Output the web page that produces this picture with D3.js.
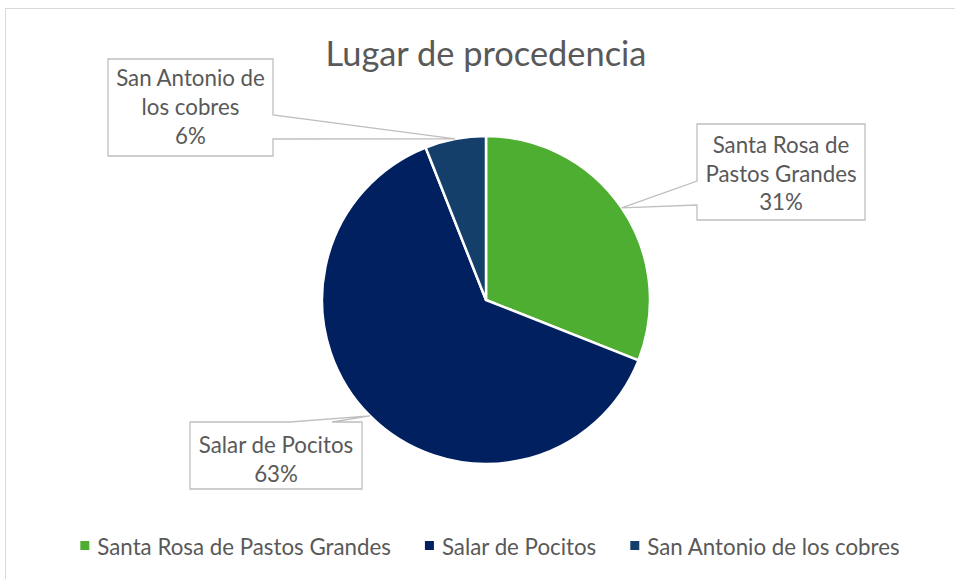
<!DOCTYPE html>
<html>
<head>
<meta charset="utf-8">
<script src="https://cdn.jsdelivr.net/npm/d3@7"></script>
<style>
  html, body { margin: 0; padding: 0; background: #ffffff; }
  svg { display: block; }
  text { font-family: Lato, "Open Sans", sans-serif; fill: #595959; }
</style>
</head>
<body>
<svg id="chart" width="955" height="579"></svg>
<script>
// ---- data ----
const categories = ["Santa Rosa de Pastos Grandes", "Salar de Pocitos", "San Antonio de los cobres"];
const values = [31, 63, 6];
const labelLines = [["Santa Rosa de", "Pastos Grandes"], ["Salar de Pocitos"], ["San Antonio de", "los cobres"]];
const colors = ["#4DAE32", "#002060", "#143F6B"];
const title = "Lugar de procedencia";

// ---- layout ----
const W = 955, H = 579;
const cx = 486, cy = 300, R = 164;
const svg = d3.select("#chart");

// outer chart border
svg.append("rect").attr("x", 5.5).attr("y", 8.5).attr("width", 960).attr("height", 600)
  .attr("fill", "#fff").attr("stroke", "#D9D9D9").attr("stroke-width", 1);

// title
svg.append("text").attr("x", cx).attr("y", 66).attr("text-anchor", "middle")
  .attr("font-size", 34.4).text(title);

const pie = d3.pie().sort(null).value(d => d)(values);
const arc = d3.arc().innerRadius(0).outerRadius(R);
const edgeArc = d3.arc().innerRadius(R).outerRadius(R);

const g = svg.append("g").attr("transform", `translate(${cx},${cy})`);
g.selectAll("path.slice").data(pie).join("path")
  .attr("class", "slice")
  .attr("d", arc)
  .attr("fill", (d, i) => colors[i])
  .attr("stroke", "#ffffff").attr("stroke-width", 2.5).attr("stroke-linejoin", "round");

// callout label boxes (layout)
const boxes = [
  { x: 697, y: 124, w: 168, h: 96, side: "left", a: 181, b: 205, lines: [153, 182, 210] },
  { x: 190, y: 422, w: 172, h: 67, side: "top", a: 290, b: 332, lines: [453, 482] },
  { x: 108, y: 59, w: 165, h: 97, side: "right", a: 115, b: 139, lines: [86, 115, 144] }
];

pie.forEach((d, i) => {
  const c = edgeArc.centroid(d);
  const tx = cx + c[0], ty = cy + c[1];
  const b = boxes[i];
  const x0 = b.x, y0 = b.y, x1 = b.x + b.w, y1 = b.y + b.h;
  let p;
  if (b.side === "left") {
    p = `M${x0},${y0}L${x1},${y0}L${x1},${y1}L${x0},${y1}L${x0},${b.b}L${tx},${ty}L${x0},${b.a}Z`;
  } else if (b.side === "right") {
    p = `M${x0},${y0}L${x1},${y0}L${x1},${b.a}L${tx},${ty}L${x1},${b.b}L${x1},${y1}L${x0},${y1}Z`;
  } else {
    p = `M${x0},${y0}L${b.a},${y0}L${tx},${ty}L${b.b},${y0}L${x1},${y0}L${x1},${y1}L${x0},${y1}Z`;
  }
  svg.append("path").attr("d", p).attr("fill", "#ffffff")
    .attr("stroke", "#BFBFBF").attr("stroke-width", 1.3).attr("stroke-linejoin", "miter");
  const lines = labelLines[i].concat([values[i] + "%"]);
  lines.forEach((t, j) => {
    svg.append("text").attr("x", (x0 + x1) / 2).attr("y", b.lines[j])
      .attr("text-anchor", "middle").attr("font-size", 22.3).text(t);
  });
});

// legend
const leg = svg.append("g");
let lx = 0;
categories.forEach((c, i) => {
  const it = leg.append("g");
  it.append("rect").attr("x", 0).attr("y", -14).attr("width", 9).attr("height", 9).attr("fill", colors[i]);
  const t = it.append("text").attr("x", 17).attr("y", 0).attr("font-size", 22.3).text(c);
  const w = 17 + t.node().getComputedTextLength();
  it.attr("transform", `translate(${lx},0)`);
  lx += w + 34;
});
const total = lx - 34;
leg.attr("transform", `translate(${490 - total / 2},555)`);
</script>
</body>
</html>
